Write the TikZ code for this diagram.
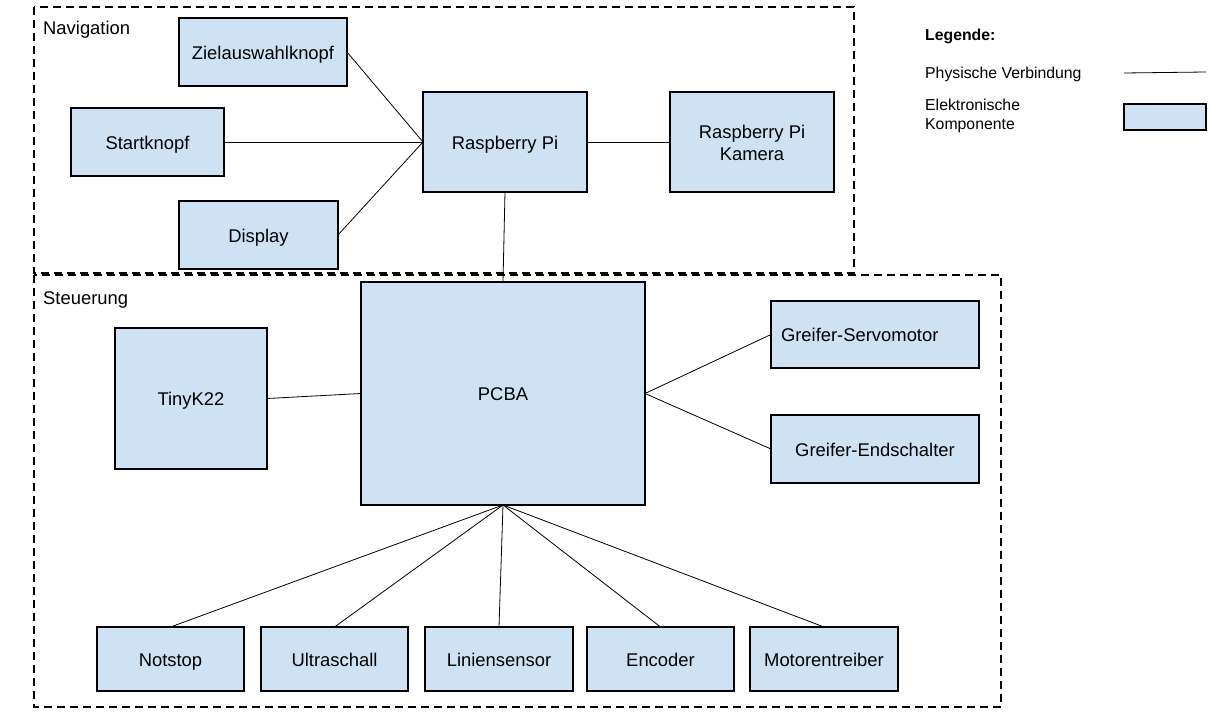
\documentclass[tikz,border=0pt]{standalone}
\usepackage{fontspec}
\setmainfont{Liberation Sans}
\definecolor{compfill}{HTML}{CFE2F3}
\tikzset{
  comp/.style={draw=black, line width=1.1pt, fill=compfill, inner sep=0pt, outer sep=0pt, align=center,
    text height=15pt, text depth=0.8pt, font=\fontsize{18.4}{22}\selectfont},
  conn/.style={draw=black, line width=0.8pt},
  group/.style={draw=black, line width=2pt, dash pattern=on 8pt off 5pt},
  grouplabel/.style={anchor=base west, inner sep=0pt, font=\fontsize{18.4}{22}\selectfont},
  legtext/.style={anchor=base west, inner sep=0pt, align=left, font=\fontsize{15.8}{19.3}\selectfont}
}
\begin{document}
\begin{tikzpicture}[x=1pt,y=-1pt]
\useasboundingbox[fill=white] (0,0) rectangle (1211,727);
% groups
\draw[group] (34,7) rectangle (854,273);
\draw[group] (34,275) rectangle (1001,707);
\node[grouplabel] (navlbl) at (43,35) {Navigation};
\node[grouplabel] (stlbl) at (43,305) {Steuerung};
% navigation
\node[comp, minimum width=168pt, minimum height=68pt] (ziel) at (263,52) {Zielauswahlknopf};
\node[comp, minimum width=153pt, minimum height=68pt] (start) at (147.5,142) {Startknopf};
\node[comp, minimum width=159pt, minimum height=68pt] (display) at (258.5,235) {Display};
\node[comp, minimum width=164pt, minimum height=100pt] (rpi) at (505,142) {Raspberry Pi};
\node[comp, minimum width=164pt, minimum height=100pt, text height=37pt] (kamera) at (752,142) {Raspberry Pi\\Kamera};
% steuerung
\node[comp, minimum width=284pt, minimum height=223pt] (pcba) at (503,393.5) {PCBA};
\node[comp, minimum width=152pt, minimum height=141pt] (tiny) at (191,398.5) {TinyK22};
\node[comp, text width=188pt, inner xsep=10pt, align=left, minimum height=67pt] (servo) at (875,334.5) {Greifer-Servomotor};
\node[comp, minimum width=208pt, minimum height=68pt] (endsch) at (875,449) {Greifer-Endschalter};
\node[comp, minimum width=147pt, minimum height=64pt] (notstop) at (170.5,659) {Notstop};
\node[comp, minimum width=147pt, minimum height=64pt] (ultra) at (334.5,659) {Ultraschall};
\node[comp, minimum width=148pt, minimum height=64pt] (linien) at (499,659) {Liniensensor};
\node[comp, minimum width=147pt, minimum height=64pt] (encoder) at (660.5,659) {Encoder};
\node[comp, minimum width=148pt, minimum height=64pt] (motor) at (824,659) {Motorentreiber};
% connectors
\draw[conn] (ziel.east) -- (rpi.west);
\draw[conn] (start.east) -- (rpi.west);
\draw[conn] (display.east) -- (rpi.west);
\draw[conn] (rpi.east) -- (kamera.west);
\draw[conn] (rpi.south) -- (pcba.north);
\draw[conn] (tiny.east) -- (pcba.west);
\draw[conn] (pcba.east) -- (servo.west);
\draw[conn] (pcba.east) -- (endsch.west);
\draw[conn] (pcba.south) -- (notstop.north);
\draw[conn] (pcba.south) -- (ultra.north);
\draw[conn] (pcba.south) -- (linien.north);
\draw[conn] (pcba.south) -- (encoder.north);
\draw[conn] (pcba.south) -- (motor.north);
% legend
\node[legtext, font=\bfseries\fontsize{15.8}{19}\selectfont] (legtitle) at (925,40.7) {Legende:};
\node[legtext] (legphys) at (925,79) {Physische Verbindung};
\node[legtext] (legel) at (925,130) {Elektronische\\Komponente};
\coordinate (lineA) at (1124,73);
\coordinate (lineB) at (1206,72);
\draw[conn] (lineA) -- (lineB);
\node[comp, minimum width=82pt, minimum height=26pt] (legbox) at (1165,117) {};
\end{tikzpicture}
\end{document}
